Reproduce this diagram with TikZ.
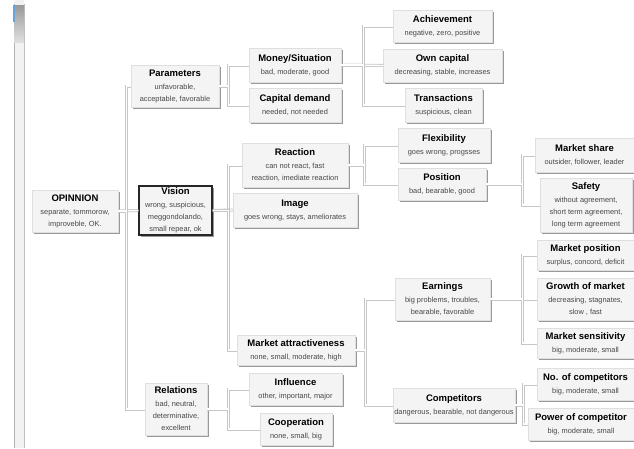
\documentclass[tikz,border=0pt]{standalone}
\usepackage{fontspec}
\setmainfont{Liberation Sans}
\usetikzlibrary{shadows}
\tikzset{
  bx/.style={fill=gray!9, draw=gray!25, line width=0.4pt, inner sep=0pt, align=center,
    drop shadow={shadow xshift=2pt, shadow yshift=-2pt, fill=gray!80, opacity=1}},
  conn/.style={draw=gray!45, line width=0.8pt, double=white, double distance=1.4pt},
}
\newcommand{\ttl}[1]{{\fontsize{9.5}{11}\selectfont\bfseries #1}}
\newcommand{\sbt}{\fontsize{7.4}{10.5}\selectfont\color{black!72}}
\newcommand{\mkbox}[7][]{%
  \node[bx,#1, minimum width={(#4-#2)*1pt}, minimum height={(#5-#3)*1pt}]
    (#6) at ({(#2+#4)/2},{(#3+#5)/2}) {#7};}
\begin{document}
\begin{tikzpicture}[x=1pt,y=-1pt]
\useasboundingbox (0,0) rectangle (634,448);
\clip (0,0) rectangle (634,448);
% window frame at the left
\fill[gray!10] (14,0) rectangle (24,448);
\draw[gray!60, line width=1pt] (14,4) -- (14,448);
\draw[gray!50, line width=1pt] (24,4) -- (24,448);
\shade[top color=gray!80, bottom color=gray!25] (14,5) rectangle (24,42);
\fill[cyan!60!blue!60] (13,5) rectangle (15,22);

% boxes
\mkbox{32}{190}{118}{232}{op}{\ttl{OPINNION}\\[1pt]\sbt separate, tommorow,\\\sbt improveble, OK.}
\mkbox[draw=black!85, line width=1.4pt]{139}{186}{212}{235}{vis}{\ttl{Vision}\\[1pt]\sbt wrong, suspicious,\\\sbt meggondolando,\\\sbt small repear, ok}
\mkbox{131}{65}{219}{107}{par}{\ttl{Parameters}\\[1pt]\sbt unfavorable,\\\sbt acceptable, favorable}
\mkbox{249}{48}{341}{82}{mon}{\ttl{Money/Situation}\\[1pt]\sbt bad, moderate, good}
\mkbox{249}{88}{341}{122}{cap}{\ttl{Capital demand}\\[1pt]\sbt needed, not needed}
\mkbox{393}{10}{492}{42}{ach}{\ttl{Achievement}\\[1pt]\sbt negative, zero, positive}
\mkbox{383}{49}{502}{82}{own}{\ttl{Own capital}\\[1pt]\sbt decreasing, stable, increases}
\mkbox{405}{88}{482}{122}{tra}{\ttl{Transactions}\\[1pt]\sbt suspicious, clean}
\mkbox{242}{143}{348}{187}{rea}{\ttl{Reaction}\\[1pt]\sbt can not react, fast\\\sbt reaction, imediate reaction}
\mkbox{233}{193}{357}{227}{img}{\ttl{Image}\\[1pt]\sbt goes wrong, stays, ameliorates}
\mkbox{398}{128}{490}{162}{fle}{\ttl{Flexibility}\\[1pt]\sbt goes wrong, progsses}
\mkbox{398}{168}{486}{200}{pos}{\ttl{Position}\\[1pt]\sbt bad, bearable, good}
\mkbox{535}{138}{634}{172}{msh}{\ttl{Market share}\\[1pt]\sbt outsider, follower, leader}
\mkbox{540}{178}{632}{232}{saf}{\ttl{Safety}\\[1pt]\sbt without agreement,\\\sbt short term agreement,\\\sbt long term agreement}
\mkbox{237}{335}{355}{365}{mat}{\ttl{Market attractiveness}\\[1pt]\sbt none, small, moderate, high}
\mkbox{395}{278}{490}{320}{ear}{\ttl{Earnings}\\[1pt]\sbt big problems, troubles,\\\sbt bearable, favorable}
\mkbox{537}{240}{634}{270}{mpo}{\ttl{Market position}\\[1pt]\sbt surplus, concord, deficit}
\mkbox{537}{278}{634}{320}{gro}{\ttl{Growth of market}\\[1pt]\sbt decreasing, stagnates,\\\sbt slow , fast}
\mkbox{537}{328}{634}{358}{sen}{\ttl{Market sensitivity}\\[1pt]\sbt big, moderate, small}
\mkbox{393}{388}{515}{422}{com}{\ttl{Competitors}\\[1pt]\sbt dangerous, bearable, not dangerous}
\mkbox{537}{368}{634}{400}{noc}{\ttl{No. of competitors}\\[1pt]\sbt big, moderate, small}
\mkbox{528}{408}{634}{440}{poc}{\ttl{Power of competitor}\\[1pt]\sbt big, moderate, small}
\mkbox{145}{383}{207}{435}{rel}{\ttl{Relations}\\[1pt]\sbt bad, neutral,\\\sbt determinative,\\\sbt excellent}
\mkbox{249}{373}{342}{405}{inf}{\ttl{Influence}\\[1pt]\sbt other, important, major}
\mkbox{260}{413}{332}{445}{coo}{\ttl{Cooperation}\\[1pt]\sbt none, small, big}

% connectors
\draw[conn] (op.east) -- (vis.west);
\draw[conn] (op.east) -- ++(8,0) |- (par.west);
\draw[conn] (op.east) -- ++(8,0) |- (rel.west);
\draw[conn] (par.east) -- ++(9,0) |- (mon.west);
\draw[conn] (par.east) -- ++(9,0) |- (cap.west);
\draw[conn] (mon.east) -- ++(22,0) |- (ach.west);
\draw[conn] (mon.east) -- (own.west);
\draw[conn] (mon.east) -- ++(22,0) |- (tra.west);
\draw[conn] (vis.east) -- ++(16,0) |- (rea.west);
\draw[conn] (vis.east) -- (img.west);
\draw[conn] (vis.east) -- ++(16,0) |- (mat.west);
\draw[conn] (rea.east) -- ++(16,0) |- (fle.west);
\draw[conn] (rea.east) -- ++(16,0) |- (pos.west);
\draw[conn] (pos.east) -- ++(36,0) |- (msh.west);
\draw[conn] (pos.east) -- ++(36,0) |- (saf.west);
\draw[conn] (mat.east) -- ++(10,0) |- (ear.west);
\draw[conn] (mat.east) -- ++(10,0) |- (com.west);
\draw[conn] (ear.east) -- ++(32,0) |- (mpo.west);
\draw[conn] (ear.east) -- (gro.west);
\draw[conn] (ear.east) -- ++(32,0) |- (sen.west);
\draw[conn] (com.east) -- ++(8,0) |- (noc.west);
\draw[conn] (com.east) -- ++(8,0) |- (poc.west);
\draw[conn] (rel.east) -- ++(21,0) |- (inf.west);
\draw[conn] (rel.east) -- ++(21,0) |- (coo.west);
\end{tikzpicture}
\end{document}
